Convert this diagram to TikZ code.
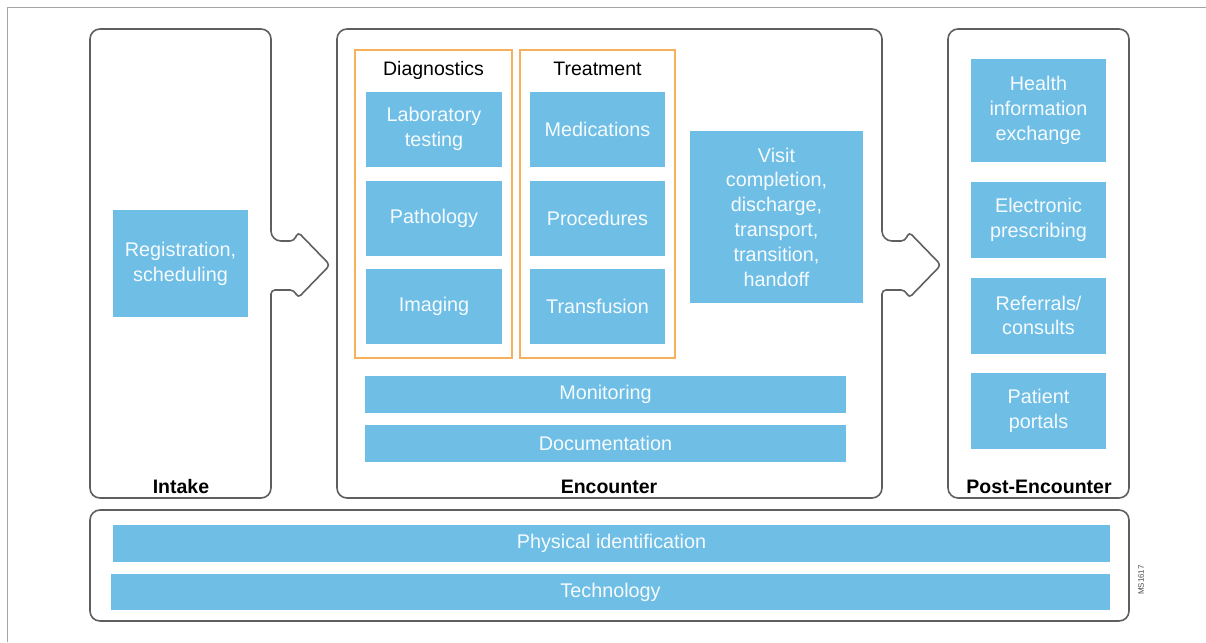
\documentclass[tikz,border=0pt]{standalone}
\usepackage{fontspec}
\setmainfont{Liberation Sans}
\usetikzlibrary{positioning}

\definecolor{blubox}{RGB}{110,190,230}
\definecolor{orgline}{RGB}{245,178,90}
\definecolor{stageline}{RGB}{95,95,95}
\definecolor{frameline}{RGB}{165,165,165}

\begin{document}
\begin{tikzpicture}
    [
      x=1pt, y=-1pt,
      blk/.style={fill=blubox, text=white!94!blubox, inner sep=0pt, align=center,
        font=\fontsize{19.8}{24.8}\selectfont},
      grp/.style={draw=orgline, line width=1.4pt, inner sep=0pt},
      stage/.style={draw=stageline, line width=1.6pt, rounded corners=10pt},
      ttl/.style={anchor=base, font=\fontsize{19.5}{23}\selectfont\bfseries},
      hdr/.style={anchor=base, font=\fontsize{19.5}{23}\selectfont}
    ]
    \useasboundingbox (0,0) rectangle (1206,642);
    % outer frame
    \draw[frameline, line width=0.8pt] (7,642) -- (7,7) -- (1206,7);
    % stage outlines
    \draw[stage] (90,29) -- (271,29) -- (271,241) [rounded corners=4pt] -- (294,241)
      -- (298,232) -- (330,265) -- (298,298) -- (294,290) -- (271,290)
      [rounded corners=10pt] -- (271,498) -- (90,498) -- cycle;
    \draw[stage] (337,29) -- (882,29) -- (882,241) [rounded corners=4pt] -- (905,241)
      -- (909,232) -- (941,265) -- (909,298) -- (905,290) -- (882,290)
      [rounded corners=10pt] -- (882,498) -- (337,498) -- cycle;
    \draw[stage] (948,29) rectangle (1129,498);
    \draw[stage] (90,510) rectangle (1129,621);
    % stage labels
    \node [ttl] (intake) at (181,493) {Intake};
    \node [ttl] (enc) at (609,493) {Encounter};
    \node [ttl] (post) at (1039,493) {Post-Encounter};
    % intake
    \node [blk, minimum width=135, minimum height=107] (reg) at (180.5,263.5)
      {Registration,\\scheduling};
    % diagnostics and treatment groups
    \node [grp, minimum width=157, minimum height=308] (diag) at (433.5,204) {};
    \node [grp, minimum width=155, minimum height=308] (treat) at (597.5,204) {};
    \node [hdr] (diaghd) at (433.5,75) {Diagnostics};
    \node [hdr] (treathd) at (597.5,75) {Treatment};
    \foreach \name/\y/\txt in {lab/129/Laboratory\\testing, path/218/Pathology,
        img/306.5/Imaging} {
        \node [blk, minimum width=136, minimum height=75] (\name) at (434,\y) {\txt};
    }
    \foreach \name/\y/\txt in {med/129/Medications, proc/218/Procedures,
        trans/306.5/Transfusion} {
        \node [blk, minimum width=135, minimum height=75] (\name) at (597.5,\y) {\txt};
    }
    \node [blk, minimum width=173, minimum height=172] (visit) at (776.5,217)
      {Visit\\completion,\\discharge,\\transport,\\transition,\\handoff};
    \node [blk, minimum width=481, minimum height=37] (mon) at (605.5,394.5) {Monitoring};
    \node [blk, minimum width=481, minimum height=37] (doc) at (605.5,443.5) {Documentation};
    % post-encounter
    \node [blk, minimum width=135, minimum height=103] (hie) at (1038.5,110.5)
      {Health\\information\\exchange};
    \foreach \name/\y/\txt in {erx/220/{Electronic\\prescribing}, ref/315.5/{Referrals/\\consults},
        portal/411/{Patient\\portals}} {
        \node [blk, minimum width=135, minimum height=76] (\name) at (1038.5,\y) {\txt};
    }
    % foundation
    \node [blk, minimum width=997, minimum height=37] (phys) at (611.5,543.5) {Physical identification};
    \node [blk, minimum width=999, minimum height=36] (tech) at (610.5,592) {Technology};
    \node [rotate=90, font=\fontsize{8}{9}\selectfont, text=black!70] (code) at (1141,580) {MS1617};
\end{tikzpicture}
\end{document}
